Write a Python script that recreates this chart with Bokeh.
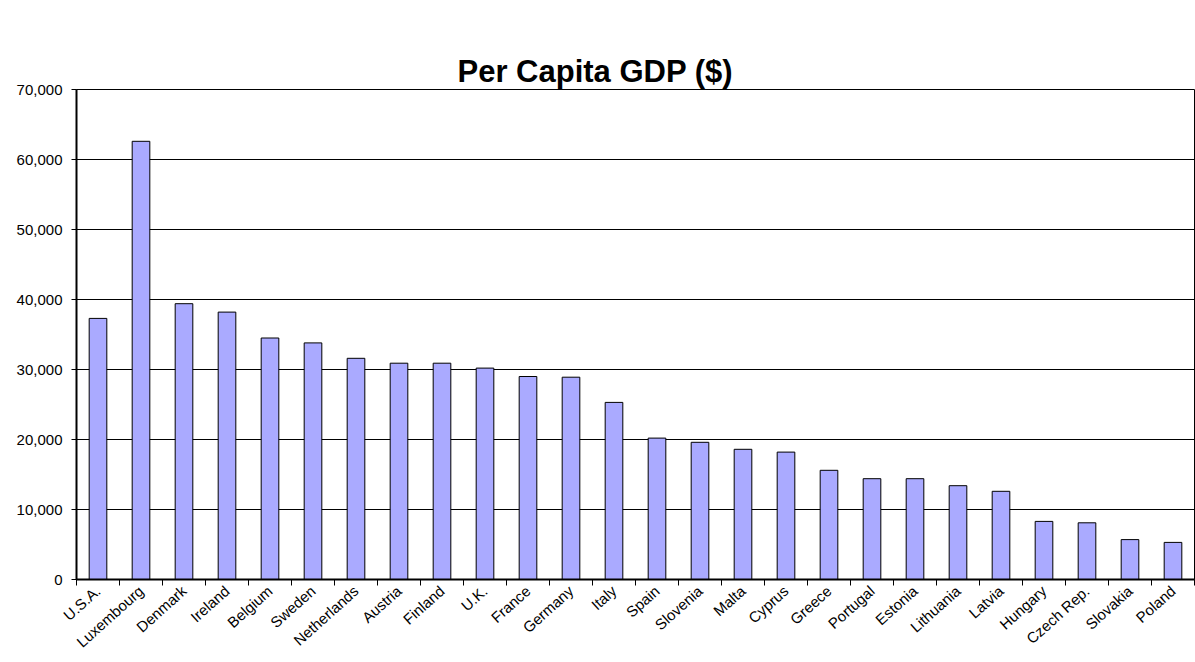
from bokeh.plotting import figure
from bokeh.models import ColumnDataSource, FixedTicker, NumeralTickFormatter, Range1d, Title
from bokeh.embed import file_html
from bokeh.resources import INLINE

countries = ["U.S.A.", "Luxembourg", "Denmark", "Ireland", "Belgium", "Sweden",
             "Netherlands", "Austria", "Finland", "U.K.", "France", "Germany",
             "Italy", "Spain", "Slovenia", "Malta", "Cyprus", "Greece", "Portugal",
             "Estonia", "Lithuania", "Latvia", "Hungary", "Czech Rep.", "Slovakia",
             "Poland"]
gdp = [37300, 62600, 39400, 38200, 34500, 33800, 31600, 30900, 30900, 30200,
       29000, 28900, 25300, 20200, 19600, 18600, 18200, 15600, 14400, 14400,
       13400, 12600, 8300, 8100, 5700, 5300]
y_ticks = [0, 10000, 20000, 30000, 40000, 50000, 60000, 70000]

pos = list(range(len(countries)))
source = ColumnDataSource(data=dict(x=pos, gdp=gdp, name=countries))

p = figure(width=1195, height=662, output_backend="svg", toolbar_location=None,
           x_range=Range1d(-0.5, len(countries) - 0.5), y_range=Range1d(0, 70000),
           min_border_left=76, min_border_right=1, min_border_top=89, min_border_bottom=83)

p.vbar(x="x", top="gdp", width=0.41, source=source,
       fill_color="#AAAAFF", line_color="black", line_width=1)

# blank spacer (closest to the frame) between the plot frame and the title
p.title.text = " "
p.title.text_font_size = "10px"
p.title.text_alpha = 0
p.title.standoff = 35

# main title, stacked outside the spacer
main_title = Title(text="Per Capita GDP ($)", text_font="Liberation Sans",
                   text_font_size="31px", text_font_style="bold", text_color="black",
                   align="left", offset=381, vertical_align="bottom", standoff=2)
p.add_layout(main_title, "above")

p.outline_line_color = "black"
p.outline_line_width = 1
p.background_fill_color = "white"
p.border_fill_color = "white"

p.xgrid.grid_line_color = None
p.ygrid.grid_line_color = "black"
p.ygrid.grid_line_width = 1
p.ygrid.ticker = FixedTicker(ticks=y_ticks)

p.yaxis.ticker = FixedTicker(ticks=y_ticks)
p.yaxis.formatter = NumeralTickFormatter(format="0,0")
p.yaxis.axis_line_width = 2
p.yaxis.axis_line_color = "black"
p.yaxis.major_tick_out = 5
p.yaxis.major_tick_in = 0
p.yaxis.minor_tick_line_color = None
p.yaxis.major_label_text_font = "Liberation Sans"
p.yaxis.major_label_text_font_size = "15px"
p.yaxis.major_label_text_color = "black"
p.yaxis.major_label_standoff = 9

boundaries = [i - 0.5 for i in range(len(countries) + 1)]
p.xaxis.ticker = FixedTicker(ticks=pos, minor_ticks=boundaries)
p.xaxis.major_label_overrides = {i: n for i, n in zip(pos, countries)}
p.xaxis.major_label_orientation = 0.73
p.xaxis.major_tick_line_color = None
p.xaxis.major_tick_out = 0
p.xaxis.major_tick_in = 0
p.xaxis.minor_tick_line_color = "black"
p.xaxis.minor_tick_out = 6
p.xaxis.minor_tick_in = 0
p.xaxis.axis_line_width = 2
p.xaxis.axis_line_color = "black"
p.xaxis.major_label_text_font = "Liberation Sans"
p.xaxis.major_label_text_font_size = "15px"
p.xaxis.major_label_text_color = "black"
p.xaxis.major_label_standoff = 3

open("out.html", "w").write(file_html(p, INLINE))
